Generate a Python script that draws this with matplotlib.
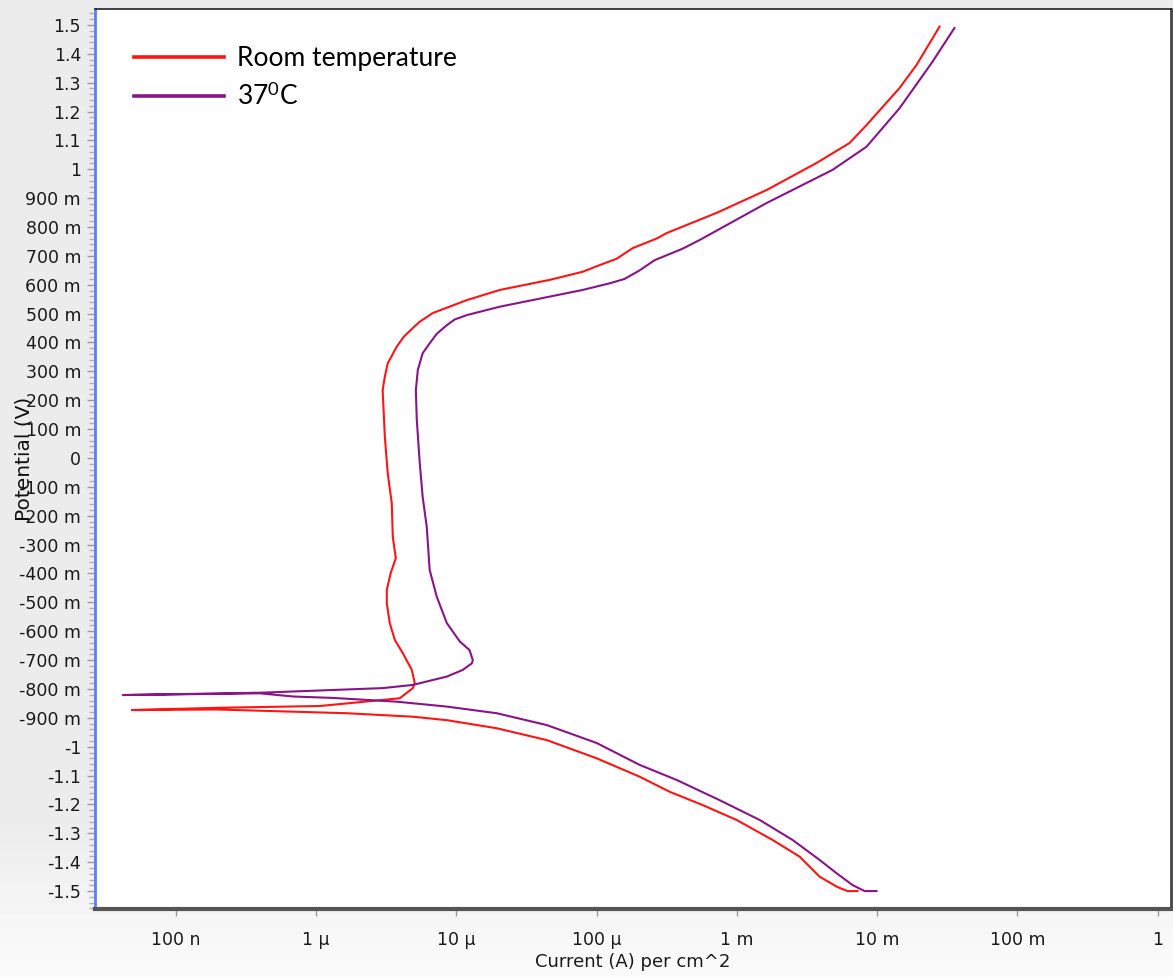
import numpy as np
import matplotlib
matplotlib.use("Agg")
import matplotlib.pyplot as plt
from matplotlib.ticker import MultipleLocator, NullLocator

# Potentiodynamic polarization scans (current density in A/cm^2, potential in V)
rt_current = [7.26e-3, 6.17e-3, 5.22e-3, 3.89e-3, 2.81e-3, 1.80e-3, 1.00e-3, 5.70e-4,
              3.32e-4, 2.03e-4, 1.00e-4, 4.41e-5, 1.94e-5, 8.55e-6, 4.89e-6, 2.84e-6,
              1.66e-6, 4.46e-7, 1.96e-7, 4.85e-8, 2.06e-7, 1.06e-6, 2.98e-6, 3.95e-6,
              4.89e-6, 5.05e-6, 4.81e-6, 4.15e-6, 3.64e-6, 3.35e-6, 3.19e-6, 3.19e-6,
              3.40e-6, 3.70e-6, 3.52e-6, 3.46e-6, 3.24e-6, 3.09e-6, 2.98e-6, 3.09e-6,
              3.24e-6, 3.76e-6, 4.22e-6, 4.89e-6, 5.48e-6, 6.79e-6, 1.19e-5, 2.04e-5,
              4.64e-5, 7.96e-5, 1.05e-4, 1.39e-4, 1.81e-4, 2.68e-4, 3.16e-4, 7.18e-4,
              1.63e-3, 3.71e-3, 6.37e-3, 8.41e-3, 1.45e-2, 1.91e-2, 2.79e-2]
rt_potential = [-1.500, -1.500, -1.486, -1.450, -1.381, -1.323, -1.254, -1.202,
                -1.156, -1.104, -1.040, -0.977, -0.936, -0.908, -0.896, -0.890,
                -0.884, -0.876, -0.871, -0.873, -0.865, -0.859, -0.838, -0.832,
                -0.797, -0.780, -0.734, -0.676, -0.630, -0.572, -0.503, -0.457,
                -0.399, -0.347, -0.273, -0.156, -0.053, 0.073, 0.235, 0.282,
                0.328, 0.386, 0.420, 0.450, 0.472, 0.502, 0.547, 0.582,
                0.617, 0.645, 0.668, 0.690, 0.727, 0.760, 0.779, 0.849,
                0.928, 1.022, 1.091, 1.153, 1.282, 1.361, 1.494]

c37_current = [9.91e-3, 8.15e-3, 6.68e-3, 5.14e-3, 3.89e-3, 2.50e-3, 1.46e-3, 7.53e-4,
               3.72e-4, 2.03e-4, 1.00e-4, 4.41e-5, 1.94e-5, 8.55e-6, 3.76e-6, 1.32e-6,
               6.83e-7, 3.97e-7, 4.19e-8, 3.97e-7, 2.98e-6, 4.89e-6, 8.55e-6, 1.11e-5,
               1.29e-5, 1.31e-5, 1.24e-5, 1.06e-5, 8.55e-6, 7.24e-6, 6.45e-6, 6.15e-6,
               5.75e-6, 5.48e-6, 5.22e-6, 5.14e-6, 5.31e-6, 5.75e-6, 6.45e-6, 7.24e-6,
               8.55e-6, 9.75e-6, 1.19e-5, 2.04e-5, 4.64e-5, 7.96e-5, 1.24e-4, 1.58e-4,
               2.03e-4, 2.59e-4, 4.11e-4, 5.43e-4, 1.63e-3, 4.82e-3, 8.41e-3, 1.45e-2,
               2.49e-2, 3.56e-2]
c37_potential = [-1.500, -1.500, -1.479, -1.438, -1.392, -1.323, -1.254, -1.185,
                 -1.115, -1.063, -0.987, -0.925, -0.884, -0.861, -0.844, -0.831,
                 -0.826, -0.815, -0.821, -0.813, -0.797, -0.786, -0.757, -0.734,
                 -0.711, -0.700, -0.665, -0.636, -0.572, -0.480, -0.388, -0.239,
                 -0.135, -0.017, 0.132, 0.235, 0.305, 0.363, 0.397, 0.430,
                 0.460, 0.480, 0.495, 0.524, 0.559, 0.582, 0.605, 0.620,
                 0.650, 0.685, 0.725, 0.755, 0.883, 0.998, 1.078, 1.212,
                 1.373, 1.489]

series_labels = ["Room temperature", "37$^{0}$C"]
series_colors = ["#ff1414", "#881488"]

x_tick_values = [1e-7, 1e-6, 1e-5, 1e-4, 1e-3, 1e-2, 1e-1, 1.0]
x_tick_labels = ["100 n", "1 µ", "10 µ", "100 µ", "1 m", "10 m", "100 m", "1"]
y_tick_values = [1.5, 1.4, 1.3, 1.2, 1.1, 1.0, 0.9, 0.8, 0.7, 0.6, 0.5, 0.4, 0.3, 0.2,
                 0.1, 0.0, -0.1, -0.2, -0.3, -0.4, -0.5, -0.6, -0.7, -0.8, -0.9,
                 -1.0, -1.1, -1.2, -1.3, -1.4, -1.5]
y_tick_labels = ["1.5", "1.4", "1.3", "1.2", "1.1", "1", "900 m", "800 m", "700 m",
                 "600 m", "500 m", "400 m", "300 m", "200 m", "100 m", "0", "-100 m",
                 "-200 m", "-300 m", "-400 m", "-500 m", "-600 m", "-700 m", "-800 m",
                 "-900 m", "-1", "-1.1", "-1.2", "-1.3", "-1.4", "-1.5"]

plt.rcParams["font.family"] = ["DejaVu Sans"]
plt.rcParams["mathtext.fontset"] = "custom"
plt.rcParams["mathtext.rm"] = "Lato"
plt.rcParams["mathtext.it"] = "Lato:italic"
plt.rcParams["mathtext.bf"] = "Lato:bold"

W, H = 1173, 977
fig = plt.figure(figsize=(W / 100, H / 100), dpi=100)

# soft grey window background, lighter toward the bottom
bg = fig.add_axes([0, 0, 1, 1], zorder=-10)
bg.axis("off")
shade = np.concatenate([np.full(820, 0.925), np.linspace(0.925, 0.985, 157)])[:, None]
bg.imshow(shade, cmap="gray", vmin=0, vmax=1, aspect="auto", extent=[0, 1, 0, 1])

ax = fig.add_axes([95 / W, (H - 909) / H, (1171 - 95) / W, 900 / H])
ax.set_facecolor("white")
ax.set_xscale("log")

for cur, pot, lab, col in zip([rt_current, c37_current], [rt_potential, c37_potential],
                              series_labels, series_colors):
    ax.plot(cur, pot, color=col, lw=1.5, label=lab, solid_joinstyle="round")

ax.set_xlim(10 ** -7.577, 10 ** 0.096)
ax.set_ylim(-1.562, 1.555)

ax.set_xticks(x_tick_values, x_tick_labels)
ax.xaxis.set_minor_locator(NullLocator())
ax.set_yticks(y_tick_values, y_tick_labels)
ax.yaxis.set_minor_locator(MultipleLocator(0.02))

ax.tick_params(axis="y", which="major", length=6, width=1, color="#9a9a9a",
               pad=4, labelsize=12.5, labelcolor="#1a1a1a")
ax.tick_params(axis="y", which="minor", length=4, width=1, color="#b0b0b0")
ax.tick_params(axis="x", which="major", length=5, width=1, color="#9a9a9a",
               pad=11, labelsize=12.5, labelcolor="#1a1a1a")

ax.spines["left"].set_color("#5a7dff")
ax.spines["left"].set_linewidth(2)
ax.spines["bottom"].set_color("#555555")
ax.spines["bottom"].set_linewidth(3)
ax.spines["top"].set_color("#222222")
ax.spines["top"].set_linewidth(1.2)
ax.spines["right"].set_color("#444444")
ax.spines["right"].set_linewidth(2)

ax.set_ylabel("Potential (V)", fontsize=14.5, color="#111111")
ax.yaxis.set_label_coords((34 - 95) / 1076, 0.5)
ax.set_xlabel("Current (A) per cm^2", fontsize=13, color="#1a1a1a")
ax.xaxis.set_label_coords(0.5, (909 - 953) / 900)

leg = ax.legend(loc="upper left", bbox_to_anchor=((134 - 95) / 1076, 1 - (46 - 9) / 900),
                frameon=False, prop={"family": "Lato", "size": 19}, borderpad=0,
                borderaxespad=0, handlelength=3.4, handletextpad=0.5, labelspacing=0.45)
for line in leg.get_lines():
    line.set_linewidth(2.6)

fig.savefig("out.png", dpi=100)
